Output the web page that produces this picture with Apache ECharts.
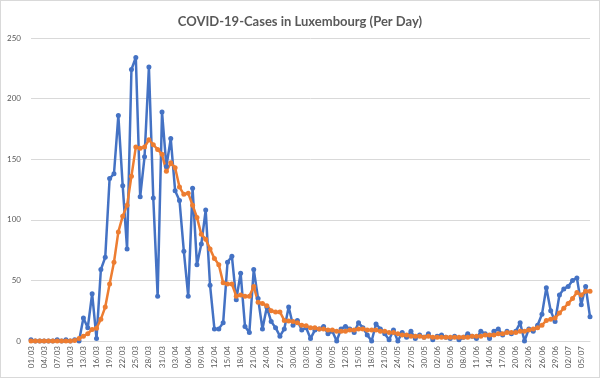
<!DOCTYPE html>
<html><head><meta charset="utf-8">
<script src="https://cdn.jsdelivr.net/npm/echarts@6/dist/echarts.min.js"></script>
<style>html,body{margin:0;padding:0;background:#fff}#c{width:598px;height:376px;border:1px solid #d9d9d9}</style>
</head><body><div id="c"></div>
<script>
// categories: 01/03 .. 07/07 (daily)
const categories = [];
(function(){const ml=[[3,31],[4,30],[5,31],[6,30],[7,7]];for(const [m,n] of ml){for(let d=1;d<=n;d++){categories.push(String(d).padStart(2,'0')+'/'+String(m).padStart(2,'0'));}}})();

const dailyCases = [
1,0,0,0,0,0,1,0,1,0,1,0,19,11,39,2,59,69,134,138,
186,128,76,224,234,119,152,226,118,37,189,144,167,124,116,74,37,126,63,80,
108,46,10,10,15,65,70,34,56,12,7,59,35,10,28,16,11,4,10,28,
13,17,9,11,2,9,10,12,6,8,0,10,12,10,7,15,11,5,0,14,
10,6,1,9,0,7,3,8,2,5,3,6,1,4,5,3,2,4,1,3,
6,4,2,8,6,2,8,10,5,8,6,8,15,0,10,8,13,22,44,25,
16,38,43,45,50,52,30,45,20
];
const movingAvg = [
0,0,0,0,0,0,0,0,0,0,0.5,2,4,6,9.5,10.5,18,28,47,65,
90,103,112,136,160,159,160,166,162,158,154,140,147,143,127,121,122,112,102,88,
84,76,68,63,48,47,47,37,38,37,37,45,32,31,29,25,24,24,17,16.5,
16,15,13,12.5,11,11,10,10,9,9,8,8,8,9,9,10,10,9,9,9,
8,8,7,7,6,5,5,4,4,4,3,4,3,3,3,3,3,3,3,3,
3,4,4,4,5,5,5,6,6,7,7,7,8,8,9,10,11,13,17,18,
19,23,27,31,35,40,38,41,41
];
const yTicks = [0,50,100,150,200,250];

const chart = echarts.init(document.getElementById('c'));
const FONT = 'Lato, "Open Sans", sans-serif';
chart.setOption({
  animation:false,
  title:{text:'COVID-19-Cases in Luxembourg (Per Day)',left:'center',top:9,
    textStyle:{fontFamily:FONT,fontSize:13,fontWeight:'bold',color:'#595959'}},
  grid:{left:30,right:9,top:37,bottom:36},
  xAxis:{type:'category',data:categories,boundaryGap:false,
    axisLine:{lineStyle:{color:'#d9d9d9'}},axisTick:{show:false},
    axisLabel:{interval:2,rotate:90,fontSize:8,color:'#595959',fontFamily:FONT,margin:5},
    splitLine:{show:false}},
  yAxis:{type:'value',min:yTicks[0],max:yTicks[yTicks.length-1],interval:50,
    axisLine:{show:false},axisTick:{show:false},
    axisLabel:{fontSize:8,color:'#595959',fontFamily:FONT,margin:10},
    splitLine:{lineStyle:{color:'#d9d9d9',width:1}}},
  series:[
    {type:'line',data:dailyCases,symbol:'circle',symbolSize:5,showAllSymbol:true,
      lineStyle:{color:'#4472C4',width:2.5},itemStyle:{color:'#4472C4'}},
    {type:'line',data:movingAvg,symbol:'circle',symbolSize:5,showAllSymbol:true,
      lineStyle:{color:'#ED7D31',width:2.5},itemStyle:{color:'#ED7D31'}}
  ]
});
</script></body></html>
